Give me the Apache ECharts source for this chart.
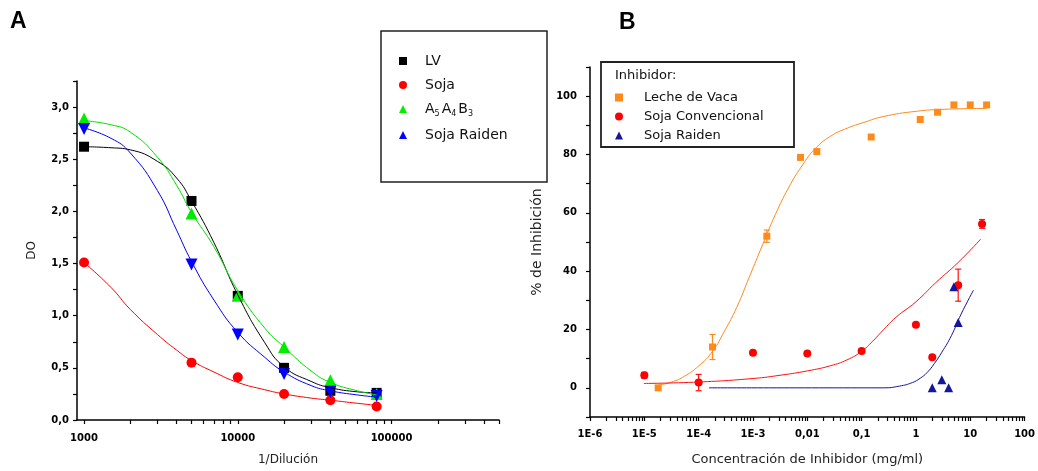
<!DOCTYPE html>
<html>
<head>
<meta charset="utf-8">
<script src="https://cdn.jsdelivr.net/npm/echarts@6/dist/echarts.min.js"></script>
<style>
  html, body { margin: 0; padding: 0; background: #fff; }
  #chart { width: 1038px; height: 471px; }
</style>
</head>
<body>
<div id="chart"></div>
<script>
// panel A : DO vs 1/Dilucion
const aDil = [1000, 5000, 10000, 20000, 40000, 80000];
const aLV = [2.62, 2.10, 1.19, 0.50, 0.28, 0.26];
const aSoja = [1.51, 0.55, 0.41, 0.25, 0.19, 0.13];
const aA5A4B3 = [2.89, 1.98, 1.19, 0.70, 0.38, 0.25];
const aRaiden = [2.79, 1.49, 0.82, 0.44, 0.27, 0.23];

// fitted curves
const aFitX = [1000, 1500, 2000, 3000, 4000, 5000, 7000, 10000, 15000, 20000, 30000, 40000, 60000, 80000];
const aFitLV = [2.62, 2.61, 2.59, 2.48, 2.32, 2.10, 1.70, 1.20, 0.74, 0.51, 0.37, 0.31, 0.27, 0.26];
const aFitSoja = [1.51, 1.27, 1.06, 0.82, 0.67, 0.57, 0.46, 0.36, 0.29, 0.25, 0.21, 0.19, 0.16, 0.14];
const aFitA5A4B3 = [2.87, 2.83, 2.76, 2.52, 2.25, 1.99, 1.66, 1.24, 0.88, 0.70, 0.47, 0.36, 0.28, 0.24];
const aFitRaiden = [2.80, 2.70, 2.56, 2.20, 1.82, 1.52, 1.15, 0.84, 0.60, 0.46, 0.33, 0.28, 0.24, 0.22];

const aMajorTicks = [1000, 10000, 100000];
const aMinorTicks = [1000, 2000, 3000, 4000, 5000, 6000, 7000, 8000, 9000,
  10000, 20000, 30000, 40000, 50000, 60000, 70000, 80000, 90000,
  100000, 200000, 300000, 400000, 500000];

// panel B : % de inhibicion vs concentracion
const bLecheX = [1.8e-5, 1.8e-4, 1.8e-3, 7.5e-3, 1.5e-2, 0.15, 1.2, 2.5, 5, 10, 20];
const bLecheY = [0, 14, 52, 79, 81, 86, 92, 94.5, 97, 97, 97];
const bLecheErr = [0, 4.3, 2.1, 0, 0, 0, 0, 0, 0, 0, 0];

const bSojaX = [1e-5, 1e-4, 1e-3, 1e-2, 0.1, 1, 2, 6, 16.5];
const bSojaY = [4.3, 1.8, 12, 11.8, 12.6, 21.6, 10.5, 35.2, 56.2];
const bSojaErr = [1, 2.8, 0, 0, 0, 0, 0, 5.5, 1.5];

const bRaidenX = [2, 3, 4, 5, 6];
const bRaidenY = [0, 2.8, 0, 34.7, 22.4];

const bFitLecheX = [1.8e-5, 3.2e-5, 5.5e-5, 1e-4, 1.8e-4, 3e-4, 5e-4, 8.7e-4, 1.5e-3, 2.6e-3, 4.5e-3, 7.9e-3, 1.4e-2, 2.7e-2, 5.4e-2, 0.11, 0.25, 1, 3.4, 20];
const bFitLecheY = [0.9, 2.0, 4.0, 7.5, 12.5, 19.5, 27.5, 38.3, 49, 59.5, 68.5, 76, 82, 86.3, 89, 91, 93, 94.8, 95.5, 95.8];
const bFitSojaX = [9.8e-6, 1e-4, 1e-3, 3.4e-3, 1e-2, 2.7e-2, 5.4e-2, 0.1, 0.16, 0.25, 0.43, 1, 2.3, 6, 15.6];
const bFitSojaY = [1.5, 2.0, 3.2, 4.4, 5.8, 7.6, 9.6, 12.5, 16.0, 19.8, 24.2, 29.5, 36, 43, 51];
const bFitRaidenX = [1.55e-4, 0.25, 0.5, 0.86, 1.2, 1.6, 2.2, 3, 4.5, 6.8, 11.5];
const bFitRaidenY = [0, 0, 0.6, 1.8, 3.3, 5.2, 8.4, 12.2, 17.9, 25.3, 33.5];

const bDecades = [1e-6, 1e-5, 1e-4, 1e-3, 1e-2, 0.1, 1, 10, 100];
const bDecadeLabels = ['1E-6', '1E-5', '1E-4', '1E-3', '0,01', '0,1', '1', '10', '100'];

const zip = (xs, ys) => xs.map((x, i) => [x, ys[i]]);
const withErr = (xs, ys, es) => xs.map((x, i) => [x, ys[i], es[i]]).filter((d) => d[2] > 0);

const bMinorTicks = [];
for (let e = -6; e < 2; e++) {
  for (let k = 1; k <= 9; k++) bMinorTicks.push(+(k * Math.pow(10, e)).toPrecision(3));
}
bMinorTicks.push(100);

const FONT = 'DejaVu Sans';
const tickLabel = { color: '#000', fontFamily: FONT, fontWeight: 'bold', fontSize: 10 };
const axisLine = { onZero: false, lineStyle: { color: '#000', width: 1.5 } };
const axisTick = { length: 4, lineStyle: { color: '#000', width: 1.2 } };

function errorBars(color) {
  return function (params, api) {
    const x = api.value(0);
    const y = api.value(1);
    const e = api.value(2);
    const top = api.coord([x, y + e]);
    const bot = api.coord([x, y - e]);
    const style = { stroke: color, lineWidth: 1.2 };
    return {
      type: 'group',
      children: [
        { type: 'line', shape: { x1: top[0], y1: top[1], x2: bot[0], y2: bot[1] }, style },
        { type: 'line', shape: { x1: top[0] - 3, y1: top[1], x2: top[0] + 3, y2: top[1] }, style },
        { type: 'line', shape: { x1: bot[0] - 3, y1: bot[1], x2: bot[0] + 3, y2: bot[1] }, style }
      ]
    };
  };
}

function fitLine(name, data, color, xi, yi) {
  return {
    name, type: 'line', xAxisIndex: xi, yAxisIndex: yi, data,
    showSymbol: false, smooth: 0.5,
    lineStyle: { color, width: 1 }, silent: true
  };
}

function points(name, data, color, symbol, size, xi, yi, rotate) {
  return {
    name, type: 'scatter', xAxisIndex: xi, yAxisIndex: yi, data,
    symbol, symbolSize: size, symbolRotate: rotate || 0,
    itemStyle: { color, opacity: 1 }
  };
}

const chart = echarts.init(document.getElementById('chart'), null, { renderer: 'canvas' });

const orange = '#ff8a1c';
const navy = '#16169a';

chart.setOption({
  animation: false,
  backgroundColor: '#fff',
  grid: [
    { left: 77, top: 81, width: 422, height: 342 },
    { left: 590, top: 67, width: 445, height: 352 }
  ],
  xAxis: [
    {
      type: 'log', logBase: 10, gridIndex: 0, min: 900, max: 500000,
      name: '1/Dilución', nameLocation: 'middle', nameGap: 34,
      nameTextStyle: { fontFamily: FONT, fontSize: 12, color: '#222' },
      axisLine, splitLine: { show: false },
      axisTick: Object.assign({ customValues: aMinorTicks }, axisTick),
      axisLabel: Object.assign({ customValues: aMajorTicks, margin: 13, formatter: (v) => String(Math.round(v)) }, tickLabel)
    },
    {
      type: 'log', logBase: 10, gridIndex: 1, min: 1e-6, max: 100,
      name: 'Concentración de Inhibidor (mg/ml)', nameLocation: 'middle', nameGap: 36,
      nameTextStyle: { fontFamily: FONT, fontSize: 13, color: '#222' },
      axisLine, splitLine: { show: false },
      axisTick: Object.assign({ customValues: bMinorTicks }, axisTick),
      axisLabel: Object.assign({
        customValues: bDecades, margin: 12,
        formatter: (v) => bDecadeLabels[Math.round(Math.log10(v)) + 6]
      }, tickLabel)
    }
  ],
  yAxis: [
    {
      type: 'value', gridIndex: 0, min: 0, max: 3.25, interval: 0.25,
      name: 'DO', nameLocation: 'middle', nameGap: 39,
      nameTextStyle: { fontFamily: FONT, fontSize: 12, color: '#222' },
      axisLine, splitLine: { show: false }, axisTick,
      axisLabel: Object.assign({
        margin: 8,
        formatter: (v) => (Math.abs(v * 2 - Math.round(v * 2)) < 1e-6 ? v.toFixed(1).replace('.', ',') : '')
      }, tickLabel)
    },
    {
      type: 'value', gridIndex: 1, min: -10, max: 110, interval: 10,
      name: '% de Inhibición', nameLocation: 'middle', nameGap: 46,
      nameTextStyle: { fontFamily: FONT, fontSize: 14, color: '#222' },
      axisLine, splitLine: { show: false }, axisTick,
      axisLabel: Object.assign({
        margin: 13,
        formatter: (v) => (v >= 0 && v <= 100 && v % 20 === 0 ? String(v) : '')
      }, tickLabel)
    }
  ],
  legend: [
    {
      orient: 'vertical', left: 399, top: 54, padding: 0, itemGap: 10,
      itemWidth: 8, itemHeight: 8, selectedMode: false,
      data: ['LV', 'Soja', 'A5A4B3', 'Soja Raiden'],
      textStyle: {
        fontFamily: FONT, fontSize: 14, color: '#111',
        rich: {
          p: { fontFamily: FONT, fontSize: 14, color: '#111', padding: [0, 0, 0, 13] },
          n: { fontFamily: FONT, fontSize: 14, color: '#111' },
          s: { fontFamily: FONT, fontSize: 8, color: '#111', padding: [10, 2, 0, 0] }
        }
      },
      formatter: (name) => (name === 'A5A4B3' ? '{p|A}{s|5}{n|A}{s|4}{n|B}{s|3}' : '{p|' + name + '}')
    },
    {
      orient: 'vertical', left: 615, top: 91, padding: 0, itemGap: 6,
      itemWidth: 8, itemHeight: 8, selectedMode: false,
      data: ['Leche de Vaca', 'Soja Convencional', 'Soja Raiden B'],
      textStyle: {
        fontFamily: FONT, fontSize: 13, color: '#111',
        rich: { p: { fontFamily: FONT, fontSize: 13, color: '#111', padding: [0, 0, 0, 16] } }
      },
      formatter: (name) => '{p|' + (name === 'Soja Raiden B' ? 'Soja Raiden' : name) + '}'
    }
  ],
  graphic: [
    { type: 'text', left: 10, top: 10, style: { text: 'A', font: 'bold 23px "Liberation Sans"', fill: '#000' } },
    { type: 'text', left: 619, top: 11, style: { text: 'B', font: 'bold 23px "Liberation Sans"', fill: '#000' } },
    { type: 'rect', shape: { x: 381, y: 31, width: 166, height: 151 }, style: { fill: 'none', stroke: '#222', lineWidth: 1.5 }, silent: true },
    { type: 'rect', shape: { x: 601, y: 62, width: 193, height: 85 }, style: { fill: 'none', stroke: '#222', lineWidth: 1.8 }, silent: true },
    { type: 'text', left: 615, top: 69, style: { text: 'Inhibidor:', font: '13px "DejaVu Sans"', fill: '#111' } }
  ],
  series: [
    fitLine('LV fit', zip(aFitX, aFitLV), '#000', 0, 0),
    fitLine('Soja fit', zip(aFitX, aFitSoja), '#ff0000', 0, 0),
    fitLine('A5A4B3 fit', zip(aFitX, aFitA5A4B3), '#00e000', 0, 0),
    fitLine('Raiden fit', zip(aFitX, aFitRaiden), '#0000ff', 0, 0),
    points('LV', zip(aDil, aLV), '#000', 'rect', 10, 0, 0),
    points('Soja', zip(aDil, aSoja), '#ff0000', 'circle', 10, 0, 0),
    points('A5A4B3', zip(aDil, aA5A4B3), '#00ee00', 'triangle', 12, 0, 0),
    points('Soja Raiden', zip(aDil, aRaiden), '#0000ff', 'triangle', 12, 0, 0, 180),

    fitLine('Leche fit', zip(bFitLecheX, bFitLecheY), orange, 1, 1),
    fitLine('Soja conv fit', zip(bFitSojaX, bFitSojaY), '#ff1010', 1, 1),
    fitLine('Raiden B fit', zip(bFitRaidenX, bFitRaidenY), navy, 1, 1),
    {
      name: 'Leche err', type: 'custom', xAxisIndex: 1, yAxisIndex: 1,
      data: withErr(bLecheX, bLecheY, bLecheErr), renderItem: errorBars(orange), silent: true
    },
    {
      name: 'Soja err', type: 'custom', xAxisIndex: 1, yAxisIndex: 1,
      data: withErr(bSojaX, bSojaY, bSojaErr), renderItem: errorBars('#ff1010'), silent: true
    },
    points('Leche de Vaca', zip(bLecheX, bLecheY), orange, 'rect', 7, 1, 1),
    points('Soja Convencional', zip(bSojaX, bSojaY), '#ff0000', 'circle', 8, 1, 1),
    points('Soja Raiden B', zip(bRaidenX, bRaidenY), navy, 'triangle', 9, 1, 1)
  ]
});
</script>
</body>
</html>
